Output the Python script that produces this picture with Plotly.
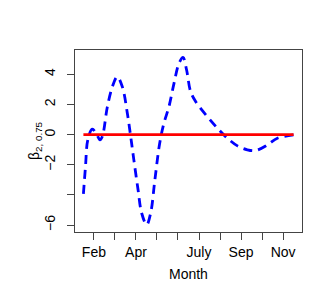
import plotly.graph_objects as go

# Estimated curve (month as decimal, coefficient value)
month = [1.5, 1.6, 1.71, 1.92, 2.1, 2.29, 2.4, 2.64, 2.88, 3.11, 3.35, 3.59, 3.75, 3.9,
         4.1, 4.27, 4.51, 4.7, 4.9, 5.13, 5.33, 5.57, 5.81, 6.05, 6.24, 6.41, 6.6, 6.84,
         7.4, 7.88, 8.35, 8.83, 9.3, 9.7, 10.26, 10.73, 11.5]
beta = [-3.93, -2.1, -0.35, 0.36, 0.1, -0.35, -0.13, 1.85, 3.18, 3.84, 3.18, 1.42, -0.13, -1.68,
        -3.66, -5.2, -5.98, -5.2, -3.0, -0.57, 0.75, 1.85, 3.4, 4.73, 5.12, 4.28, 2.85, 2.19,
        1.19, 0.42, -0.24, -0.75, -1.01, -1.06, -0.68, -0.24, -0.02]

zero_x = [1.5, 11.5]
zero_y = [0, 0]

# labelled ticks and unlabelled ticks
x_tickvals = [2, 4, 7, 9, 11]
x_ticktext = ["Feb", "Apr", "July", "Sep", "Nov"]
x_minorvals = [3, 5, 6, 8, 10]
y_tickvals = [4, 2, 0, -2, -6]
y_ticktext = ["4", "2", "0", "\u22122", "\u22126"]
y_minorvals = [-4]

x_title = "Month"
y_title = "\u03b2<sub>2, 0.75</sub>"

FONT = "Liberation Sans, Arial, sans-serif"

fig = go.Figure()
fig.add_trace(go.Scatter(x=month, y=beta, mode="lines",
                         line=dict(color="#0000ff", width=2.8, dash="9px,6px", shape="spline", smoothing=1.0),
                         showlegend=False, hoverinfo="skip"))
fig.add_trace(go.Scatter(x=zero_x, y=zero_y, mode="lines",
                         line=dict(color="#ff0000", width=2.8),
                         showlegend=False, hoverinfo="skip"))

# page body has an 8px default margin, so the figure is sized/offset to compensate
fig.update_layout(
    width=319, height=287,
    margin=dict(l=67, r=25, t=42, b=63, autoexpand=False),
    paper_bgcolor="white", plot_bgcolor="white",
    font=dict(family=FONT, size=14, color="black"),
    xaxis=dict(range=[1.1, 11.9], tickvals=x_tickvals, ticktext=x_ticktext, automargin=False,
               ticks="outside", ticklen=7, tickcolor="#444", showgrid=False, zeroline=False,
               showline=True, linecolor="#444", linewidth=1, mirror=True,
               minor=dict(tickvals=x_minorvals, ticks="outside", ticklen=7, tickcolor="#444", showgrid=False),
               tickfont=dict(size=14), ticklabelstandoff=0),
    yaxis=dict(range=[-6.46, 5.61], tickvals=y_tickvals, ticktext=y_ticktext, automargin=False,
               ticks="outside", ticklen=7, tickcolor="#444", showgrid=False, zeroline=False,
               showline=True, linecolor="#444", linewidth=1, mirror=True,
               minor=dict(tickvals=y_minorvals, ticks="outside", ticklen=7, tickcolor="#444", showgrid=False),
               tickangle=-90, tickfont=dict(size=14), ticklabelstandoff=6),
    annotations=[
        dict(text=x_title, xref="paper", yref="paper", x=0.5, y=0, xanchor="center", yanchor="middle",
             yshift=-42, showarrow=False, font=dict(family=FONT, size=14)),
        dict(text=y_title, xref="paper", yref="paper", x=0, y=0.5, xanchor="center", yanchor="middle",
             xshift=-40, textangle=-90, showarrow=False, font=dict(family=FONT, size=14)),
    ],
)

fig.write_html("out.html")
